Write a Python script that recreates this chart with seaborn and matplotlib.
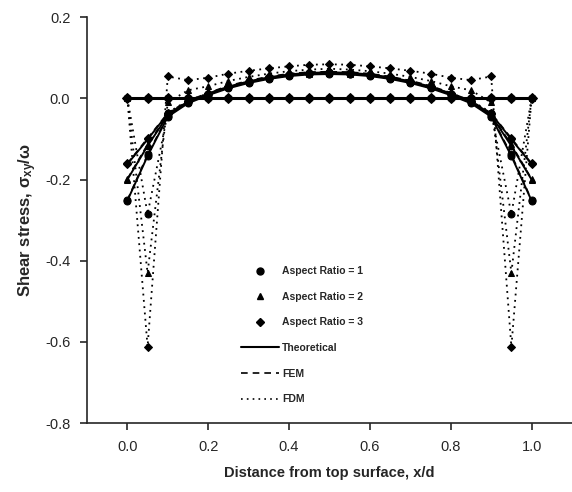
import matplotlib
matplotlib.use("Agg")
import matplotlib.pyplot as plt
from matplotlib.lines import Line2D
from matplotlib.ticker import FuncFormatter
import seaborn as sns

# x positions along the depth
x = [0.00, 0.05, 0.10, 0.15, 0.20, 0.25, 0.30, 0.35, 0.40, 0.45, 0.50,
     0.55, 0.60, 0.65, 0.70, 0.75, 0.80, 0.85, 0.90, 0.95, 1.00]

# theoretical shear stress for each aspect ratio
theory_ar1 = [-0.252, -0.142, -0.045, -0.012, 0.008, 0.025, 0.038, 0.048, 0.055, 0.059, 0.060,
              0.059, 0.055, 0.048, 0.038, 0.025, 0.008, -0.012, -0.045, -0.142, -0.252]
theory_ar2 = [-0.200, -0.117, -0.042, -0.010, 0.010, 0.027, 0.040, 0.050, 0.057, 0.061, 0.062,
              0.061, 0.057, 0.050, 0.040, 0.027, 0.010, -0.010, -0.042, -0.117, -0.200]
theory_ar3 = [-0.162, -0.101, -0.038, -0.008, 0.012, 0.029, 0.042, 0.052, 0.059, 0.063, 0.064,
              0.063, 0.059, 0.052, 0.042, 0.029, 0.012, -0.008, -0.038, -0.101, -0.162]

# FEM results
fem_ar1 = [-0.250, -0.138, -0.043, -0.010, 0.010, 0.027, 0.040, 0.050, 0.057, 0.061, 0.062,
           0.061, 0.057, 0.050, 0.040, 0.027, 0.010, -0.010, -0.043, -0.138, -0.250]
fem_ar2 = [-0.198, -0.113, -0.040, -0.008, 0.012, 0.029, 0.042, 0.052, 0.059, 0.063, 0.064,
           0.063, 0.059, 0.052, 0.042, 0.029, 0.012, -0.008, -0.040, -0.113, -0.198]
fem_ar3 = [-0.160, -0.098, -0.036, -0.006, 0.014, 0.031, 0.044, 0.054, 0.061, 0.065, 0.066,
           0.065, 0.061, 0.054, 0.044, 0.031, 0.014, -0.006, -0.036, -0.098, -0.160]

# FDM results
fdm_ar1 = [0.000, -0.285, -0.035, -0.005, 0.012, 0.028, 0.040, 0.050, 0.057, 0.062, 0.064,
           0.062, 0.057, 0.050, 0.040, 0.028, 0.012, -0.005, -0.035, -0.285, 0.000]
fdm_ar2 = [0.000, -0.430, -0.010, 0.020, 0.030, 0.043, 0.053, 0.061, 0.067, 0.071, 0.073,
           0.071, 0.067, 0.061, 0.053, 0.043, 0.030, 0.020, -0.010, -0.430, 0.000]
fdm_ar3 = [0.000, -0.612, 0.054, 0.045, 0.051, 0.061, 0.068, 0.074, 0.079, 0.083, 0.084,
           0.083, 0.079, 0.074, 0.068, 0.061, 0.051, 0.045, 0.054, -0.612, 0.000]

# flat line at zero with markers
zero_line = [0.0, 0.0, 0.0, 0.0, 0.0, 0.0, 0.0, 0.0, 0.0, 0.0, 0.0,
             0.0, 0.0, 0.0, 0.0, 0.0, 0.0, 0.0, 0.0, 0.0, 0.0]

sns.set_style("ticks")
plt.rcParams["font.family"] = ["Liberation Sans", "DejaVu Sans"]
plt.rcParams["mathtext.fontset"] = "custom"
plt.rcParams["mathtext.rm"] = "Liberation Sans"
plt.rcParams["mathtext.it"] = "Liberation Sans:italic"
plt.rcParams["mathtext.bf"] = "Liberation Sans:bold"

fig = plt.figure(figsize=(5.72, 4.92), dpi=100)
ax = fig.add_axes([0.152, 0.140, 0.848, 0.825])

solid = "-"
dashed = (0, (4, 3))
dotted = (0, (1, 2.5))

series = [
    (theory_ar1, "o", solid, 1.4), (theory_ar2, "^", solid, 1.4), (theory_ar3, "D", solid, 1.4),
    (fem_ar1, "o", dashed, 1.1), (fem_ar2, "^", dashed, 1.1), (fem_ar3, "D", dashed, 1.1),
    (fdm_ar1, "o", dotted, 1.3), (fdm_ar2, "^", dotted, 1.3), (fdm_ar3, "D", dotted, 1.3),
]
for ys, mk, ls, lw in series:
    sns.lineplot(x=x, y=ys, ax=ax, color="black", marker=mk, markersize=5 if mk != "D" else 4.5,
                 markeredgecolor="black", linestyle=ls, linewidth=lw, legend=False)

sns.lineplot(x=x, y=zero_line, ax=ax, color="black", marker="D", markersize=5,
             markeredgecolor="black", linewidth=2.2, legend=False)
sns.lineplot(x=x, y=zero_line, ax=ax, color="black", marker="o", markersize=5,
             markeredgecolor="black", linewidth=0, legend=False)

ax.set_xlim(-0.1, 1.1)
ax.set_ylim(-0.8, 0.2)
ax.set_xticks([0.0, 0.2, 0.4, 0.6, 0.8, 1.0])
ax.set_yticks([-0.8, -0.6, -0.4, -0.2, 0.0, 0.2])
fmt = FuncFormatter(lambda v, p: f"{v:.1f}".replace("\u2212", "-"))
ax.xaxis.set_major_formatter(fmt)
ax.yaxis.set_major_formatter(fmt)
ax.tick_params(labelsize=10.5, direction="out", length=5, width=1.2, pad=7)
for s in ["left", "bottom"]:
    ax.spines[s].set_linewidth(1.2)
sns.despine(ax=ax)

ax.set_xlabel("Distance from top surface, x/d", fontsize=10.5, fontweight="bold", labelpad=9)
ax.set_ylabel(r"Shear stress, $\mathbf{\sigma_{xy}/\omega}$", fontsize=12, fontweight="bold", labelpad=4)

handles = [
    Line2D([], [], color="black", marker="o", linestyle="none", markersize=5),
    Line2D([], [], color="black", marker="^", linestyle="none", markersize=5),
    Line2D([], [], color="black", marker="D", linestyle="none", markersize=4),
    Line2D([], [], color="black", linestyle=solid, linewidth=1.5),
    Line2D([], [], color="black", linestyle=dashed, linewidth=1.2),
    Line2D([], [], color="black", linestyle=dotted, linewidth=1.2),
]
labels = ["Aspect Ratio = 1", "Aspect Ratio = 2", "Aspect Ratio = 3",
          "Theoretical", "FEM", "FDM"]
fig.legend(handles, labels, loc="upper left", bbox_to_anchor=(236 / 572, 1 - 261 / 492),
           frameon=False, borderpad=0, handlelength=3.6, handletextpad=0.3,
           labelspacing=1.5, prop={"size": 7.5, "weight": "bold"})

fig.savefig("out.png", dpi=100)
